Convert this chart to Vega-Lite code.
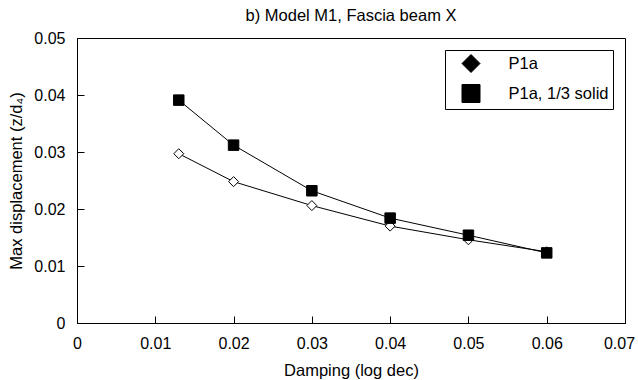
{
  "$schema": "https://vega.github.io/schema/vega-lite/v6.json",
  "width": 548,
  "height": 285,
  "autosize": {"type": "none"},
  "padding": {"left": 77, "top": 38, "right": 13, "bottom": 57},
  "background": "white",
  "config": {
    "font": "Liberation Sans",
    "view": {"stroke": "black", "strokeWidth": 1},
    "axis": {
      "grid": false,
      "domainColor": "black",
      "labelColor": "black",
      "titleColor": "black",
      "labelFontSize": 16,
      "titleFontSize": 16.5,
      "titleFontWeight": "normal"
    }
  },
  "title": {
    "text": "b) Model M1, Fascia beam X",
    "fontSize": 16.5,
    "fontWeight": "normal",
    "color": "black",
    "offset": 6
  },
  "data": {
    "values": [
      {"damping": 0.013, "disp": 0.0297, "series": "P1a"},
      {"damping": 0.02, "disp": 0.0248, "series": "P1a"},
      {"damping": 0.03, "disp": 0.0206, "series": "P1a"},
      {"damping": 0.04, "disp": 0.0170, "series": "P1a"},
      {"damping": 0.05, "disp": 0.0146, "series": "P1a"},
      {"damping": 0.06, "disp": 0.0125, "series": "P1a"},
      {"damping": 0.013, "disp": 0.0391, "series": "P1a, 1/3 solid"},
      {"damping": 0.02, "disp": 0.0312, "series": "P1a, 1/3 solid"},
      {"damping": 0.03, "disp": 0.0232, "series": "P1a, 1/3 solid"},
      {"damping": 0.04, "disp": 0.0184, "series": "P1a, 1/3 solid"},
      {"damping": 0.05, "disp": 0.0154, "series": "P1a, 1/3 solid"},
      {"damping": 0.06, "disp": 0.0123, "series": "P1a, 1/3 solid"}
    ]
  },
  "encoding": {
    "x": {
      "field": "damping",
      "type": "quantitative",
      "title": "Damping (log dec)",
      "scale": {"domain": [0, 0.07], "nice": false},
      "axis": {"values": [0, 0.01, 0.02, 0.03, 0.04, 0.05, 0.06, 0.07], "format": "~g", "labelFlush": false, "titlePadding": 11,
        "zindex": 1, "ticks": true, "tickSize": -7, "tickColor": "black", "tickWidth": 1, "tickOpacity": 1, "labelPadding": 19,
        "labelOffset": {"condition": {"test": "datum.value === 0.07", "value": -6}, "value": 0}}
    },
    "y": {
      "field": "disp",
      "type": "quantitative",
      "title": "Max displacement (z/d₄)",
      "scale": {"domain": [0, 0.05], "nice": false},
      "axis": {"values": [0, 0.01, 0.02, 0.03, 0.04, 0.05], "format": "~g", "titlePadding": 9,
        "zindex": 1, "ticks": true, "tickSize": -7, "tickColor": "black", "tickWidth": 1, "tickOpacity": 1, "labelPadding": 19}
    }
  },
  "layer": [
    {
      "mark": {"type": "line", "color": "black", "strokeWidth": 1},
      "encoding": {"detail": {"field": "series"}}
    },
    {
      "mark": {"type": "point", "filled": true, "stroke": "black", "strokeWidth": 1, "opacity": 1},
      "encoding": {
        "shape": {
          "field": "series",
          "type": "nominal",
          "scale": {"domain": ["P1a", "P1a, 1/3 solid"], "range": ["diamond", "square"]},
          "legend": {
            "title": null,
            "orient": "top-right",
            "offset": 12,
            "strokeColor": "black",
            "fillColor": "white",
            "padding": 4,
            "cornerRadius": 0,
            "symbolSize": 324,
            "symbolStrokeWidth": 1,
            "symbolOffset": 12.5,
            "rowPadding": 7,
            "labelOffset": 28,
            "labelFontSize": 16.5,
            "labelColor": "black",
            "labelLimit": 300,
            "encode": {
              "symbols": {
                "shape": {"condition": {"test": "datum.value === 'P1a'", "value": "M-2.33,0H-0.5M0.5,0H2.33M0,-0.5L0.5,0L0,0.5L-0.5,0Z"}, "value": "M-2.33,0H-0.44M0.44,0H2.33M-0.44,-0.44H0.44V0.44H-0.44Z"},
                "fill": {"condition": {"test": "datum.value === 'P1a'", "value": "white"}, "value": "black"},
                "stroke": {"value": "black"},
                "strokeWidth": {"value": 1},
                "opacity": {"value": 1}
              }
            }
          }
        },
        "fill": {"condition": {"test": "datum.series === 'P1a'", "value": "white"}, "value": "black"},
        "size": {"condition": {"test": "datum.series === 'P1a'", "value": 100}, "value": 110}
      }
    }
  ]
}
